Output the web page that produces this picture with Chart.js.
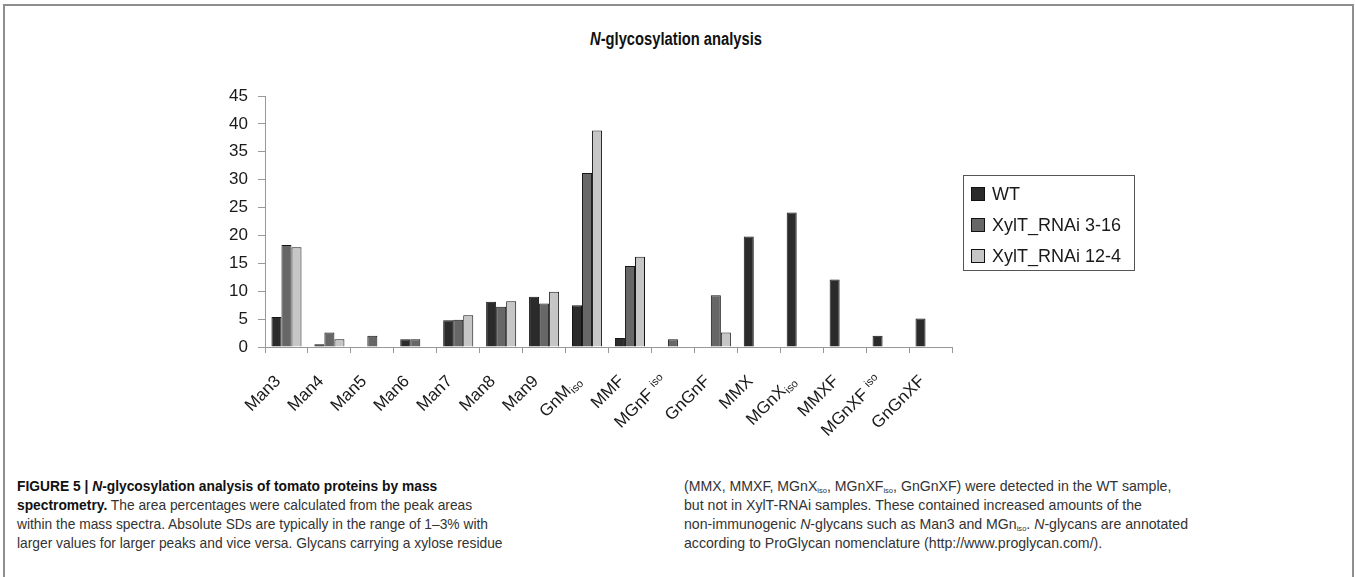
<!DOCTYPE html>
<html>
<head>
<meta charset="utf-8">
<script src="https://cdn.jsdelivr.net/npm/chart.js@4.4.1/dist/chart.umd.min.js"></script>
<style>
  html, body { margin: 0; padding: 0; background: #fff; }
  body { width: 1356px; height: 577px; position: relative; overflow: hidden; font-family: "Liberation Sans", Arial, sans-serif; }
  #frame { position: absolute; left: 3px; top: 4px; width: 1347px; height: 600px; border: 2px solid #8e8e8e; border-bottom: none; }
  #wrap { position: absolute; left: 0; top: 0; width: 1356px; height: 455px; }
  #title { position: absolute; left: 676px; top: 29px; font: bold 18px "Liberation Sans", Arial, sans-serif; color: #111; white-space: nowrap; }
  .col { position: absolute; top: 476px; font: 15px "Liberation Sans", Arial, sans-serif; color: #333; line-height: 19px; white-space: nowrap; transform-origin: 0 0; }
  .col > div { width: max-content; }
  .col b { color: #111; }
  #left { left: 17px; }
  #right { left: 684px; }
  sub { font-size: 8px; vertical-align: -2px; line-height: 0; }
</style>
</head>
<body>
<div id="frame"></div>
<div id="title"><i>N</i>-glycosylation analysis</div>
<div id="wrap"><canvas id="chart" width="1356" height="455"></canvas></div>
<div class="col" id="left">
  <div><b>FIGURE 5 | <i>N</i>-glycosylation analysis of tomato proteins by mass</b></div>
  <div><b>spectrometry.</b> The area percentages were calculated from the peak areas</div>
  <div id="refLeft">within the mass spectra. Absolute SDs are typically in the range of 1–3% with</div>
  <div>larger values for larger peaks and vice versa. Glycans carrying a xylose residue</div>
</div>
<div class="col" id="right">
  <div>(MMX, MMXF, MGnX<sub>iso</sub>, MGnXF<sub>iso</sub>, GnGnXF) were detected in the WT sample,</div>
  <div>but not in XylT-RNAi samples. These contained increased amounts of the</div>
  <div id="refRight">non-immunogenic <i>N</i>-glycans such as Man3 and MGn<sub>iso</sub>. <i>N</i>-glycans are annotated</div>
  <div>according to ProGlycan nomenclature (http://www.proglycan.com/).</div>
</div>
<script>
const categories = ['Man3', 'Man4', 'Man5', 'Man6', 'Man7', 'Man8', 'Man9', 'GnMiso', 'MMF', 'MGnFiso',
  'GnGnF', 'MMX', 'MGnXiso', 'MMXF', 'MGnXFiso', 'GnGnXF'];
// how the "iso" part of a label is set: sub = subscript, raised = spaced and lifted
const isoStyle = { GnMiso: 'sub', MGnFiso: 'raised', MGnXiso: 'sub', MGnXFiso: 'raised' };

const seriesNames = ['WT', 'XylT_RNAi 3-16', 'XylT_RNAi 12-4'];
const wt       = [5.4, 0.5, 0,   1.4, 4.8, 8.1, 9.0, 7.5,  1.6,  0,   0,   19.8, 24.1, 12.1, 2.0, 5.1];
const rnai316  = [18.3, 2.6, 2.0, 1.4, 4.9, 7.2, 7.8, 31.2, 14.5, 1.4, 9.3, 0,    0,    0,    0,   0];
const rnai124  = [17.9, 1.4, 0,   0,   5.7, 8.2, 9.9, 38.8, 16.2, 0,   2.6, 0,    0,    0,    0,   0];
const fills = ['#2b2b2b', '#676767', '#c6c6c6'];

const yTicks = { min: 0, max: 45, step: 5 };

// the printed caption and title use a condensed face; squeeze Liberation Sans to the same widths
function squeeze(el, measureEl, target, centre) {
  const w = measureEl.getBoundingClientRect().width;
  const k = target / w;
  if (centre) {
    el.style.transformOrigin = '0 0';
    el.style.transform = 'translateX(' + (-w * k / 2) + 'px) scaleX(' + k + ')';
  } else {
    el.style.transform = 'scaleX(' + k + ')';
  }
}
const title = document.getElementById('title');
squeeze(title, title, 172, true);
squeeze(document.getElementById('left'), document.getElementById('refLeft'), 471);
squeeze(document.getElementById('right'), document.getElementById('refRight'), 504);

const labelFont = '17px "Liberation Sans", Arial, sans-serif';
const isoFont = '11px "Liberation Sans", Arial, sans-serif';

const xLabels = {
  id: 'xLabels',
  afterDraw(chart) {
    const ctx = chart.ctx;
    const xs = chart.scales.x;
    ctx.fillStyle = '#1a1a1a';
    categories.forEach((name, i) => {
      const style = isoStyle[name];
      const main = style ? name.slice(0, -3) : name;
      const x = xs.getPixelForValue(i);
      ctx.save();
      ctx.translate(x - 5, xs.top + 35);
      ctx.rotate(-Math.PI / 4);
      ctx.textBaseline = 'alphabetic';
      ctx.textAlign = 'left';
      ctx.font = labelFont;
      const wMain = ctx.measureText(main).width;
      let wIso = 0, gap = 0;
      if (style) {
        ctx.font = isoFont;
        gap = style === 'raised' ? 5 : 0;
        wIso = ctx.measureText('iso').width + gap;
      }
      const start = -(wMain + wIso);
      ctx.font = labelFont;
      ctx.fillText(main, start, 0);
      if (style) {
        ctx.font = isoFont;
        ctx.fillText('iso', start + wMain + gap, style === 'sub' ? 3 : -6);
      }
      ctx.restore();
    });
  }
};

const boxLegend = {
  id: 'boxLegend',
  afterDraw(chart) {
    const ctx = chart.ctx;
    ctx.save();
    ctx.strokeStyle = '#555';
    ctx.lineWidth = 1;
    ctx.strokeRect(963.5, 175.5, 171, 95);
    ctx.font = '18px "Liberation Sans", Arial, sans-serif';
    ctx.textBaseline = 'middle';
    chart.data.datasets.forEach((ds, i) => {
      const cy = 194 + i * 31;
      ctx.fillStyle = ds.backgroundColor;
      ctx.fillRect(971, cy - 7, 14, 14);
      ctx.strokeStyle = '#111';
      ctx.strokeRect(971.5, cy - 6.5, 13, 13);
      ctx.fillStyle = '#1a1a1a';
      ctx.fillText(ds.label, 992, cy + 1);
    });
    ctx.restore();
  }
};

const ctx = document.getElementById('chart').getContext('2d');
const chart = new Chart(ctx, {
  type: 'bar',
  data: {
    labels: categories,
    datasets: [wt, rnai316, rnai124].map((d, i) => ({
      label: seriesNames[i],
      data: d,
      backgroundColor: fills[i],
      borderColor: '#151515',
      borderWidth: 1,
      categoryPercentage: 0.7,
      barPercentage: 1.0
    }))
  },
  options: {
    responsive: false,
    animation: false,
    layout: { padding: { left: 180, top: 96, right: 404, bottom: 0 } },
    plugins: { legend: { display: false }, tooltip: { enabled: false } },
    scales: {
      x: {
        grid: { drawOnChartArea: false, tickLength: 6, color: '#999', offset: true },
        border: { color: '#999' },
        ticks: { display: false },
        afterFit(s) { s.height = 108; }
      },
      y: {
        min: yTicks.min,
        max: yTicks.max,
        ticks: { stepSize: yTicks.step, color: '#1a1a1a', padding: 10,
          font: { family: '"Liberation Sans", Arial, sans-serif', size: 17 } },
        grid: { drawOnChartArea: false, tickLength: 7, color: '#999' },
        border: { color: '#999' },
        afterFit(s) { s.width = 85; }
      }
    }
  },
  plugins: [xLabels, boxLegend]
});
</script>
</body>
</html>
